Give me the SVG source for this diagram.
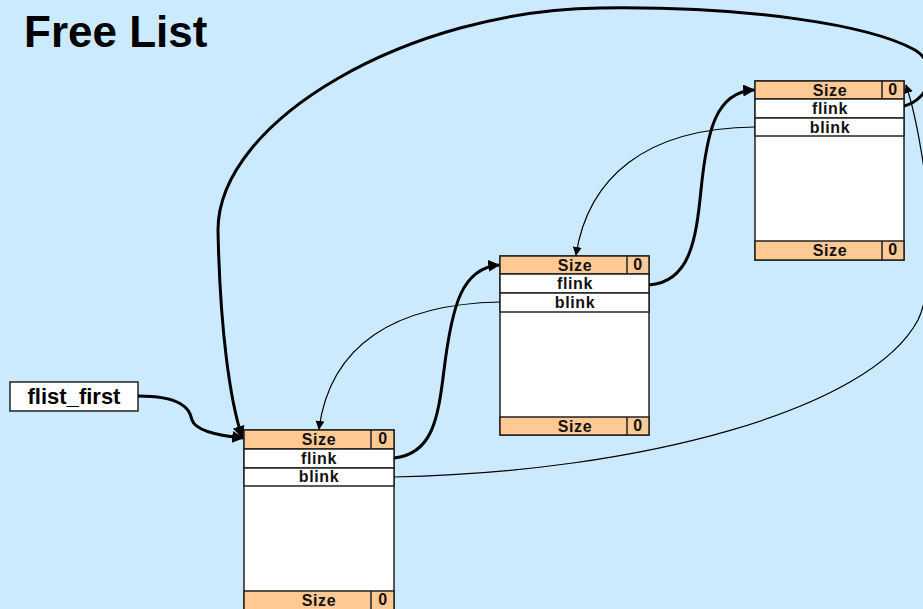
<svg xmlns="http://www.w3.org/2000/svg" width="923" height="609" viewBox="0 0 923 609">
  <defs>
    <marker id="headThick" viewBox="0 0 10 10" refX="9" refY="5" markerWidth="12" markerHeight="12" markerUnits="userSpaceOnUse" orient="auto">
      <path d="M0,0 L10,5 L0,10 Z" fill="#000"/>
    </marker>
    <marker id="headThin" viewBox="0 0 10 10" refX="9" refY="5" markerWidth="9" markerHeight="9" markerUnits="userSpaceOnUse" orient="auto">
      <path d="M0,0 L10,5 L0,10 Z" fill="#000"/>
    </marker>
  </defs>
  <style>
    .title { font-family: "Liberation Sans", Arial, sans-serif; font-weight: bold; font-size: 44px; fill: #000; }
    .lbl { font-family: "Liberation Sans", Arial, sans-serif; font-weight: bold; font-size: 16px; letter-spacing: 0.6px; fill: #111; text-anchor: middle; }
    .hdr { fill: #FFC994; stroke: #222; stroke-width: 1.5; }
    .row { fill: #FFFFFF; stroke: #222; stroke-width: 1.5; }
    .thick { fill: none; stroke: #000; stroke-width: 3; marker-end: url(#headThick); }
    .thin { fill: none; stroke: #000; stroke-width: 1.2; marker-end: url(#headThin); }
    .ptr { fill: #FFFFFF; stroke: #222; stroke-width: 1.5; }
    .ptrtxt { font-family: "Liberation Sans", Arial, sans-serif; font-weight: bold; font-size: 22px; fill: #000; text-anchor: middle; }
  </style>

  <rect width="923" height="609" fill="#CCEAFE"/>

  <text class="title" x="24" y="47">Free List</text>

  <!-- list head pointer -->
  <g id="flist_first">
    <rect class="ptr" x="10" y="382" width="128" height="29"/>
    <text class="ptrtxt" x="74" y="404">flist_first</text>
  </g>

  <!-- free block 1 -->
  <g id="block1">
    <rect class="row" x="244" y="430" width="150" height="179"/>
    <rect class="hdr" x="244" y="430" width="150" height="19"/>
    <line x1="371" y1="430" x2="371" y2="449" stroke="#222" stroke-width="1.5"/>
    <rect class="row" x="244" y="449" width="150" height="19"/>
    <rect class="row" x="244" y="468" width="150" height="18"/>
    <rect class="hdr" x="244" y="591" width="150" height="19"/>
    <line x1="371" y1="591" x2="371" y2="610" stroke="#222" stroke-width="1.5"/>
    <text class="lbl" x="319" y="445">Size</text>
    <text class="lbl" x="383" y="444">0</text>
    <text class="lbl" x="319" y="464">flink</text>
    <text class="lbl" x="319" y="482">blink</text>
    <text class="lbl" x="319" y="606">Size</text>
    <text class="lbl" x="383" y="605">0</text>
  </g>

  <!-- free block 2 -->
  <g id="block2">
    <rect class="row" x="500" y="256" width="149" height="179"/>
    <rect class="hdr" x="500" y="256" width="149" height="18"/>
    <line x1="627" y1="256" x2="627" y2="274" stroke="#222" stroke-width="1.5"/>
    <rect class="row" x="500" y="274" width="149" height="19"/>
    <rect class="row" x="500" y="293" width="149" height="19"/>
    <rect class="hdr" x="500" y="417" width="149" height="18"/>
    <line x1="627" y1="417" x2="627" y2="435" stroke="#222" stroke-width="1.5"/>
    <text class="lbl" x="575" y="271">Size</text>
    <text class="lbl" x="638" y="270">0</text>
    <text class="lbl" x="575" y="289">flink</text>
    <text class="lbl" x="575" y="308">blink</text>
    <text class="lbl" x="575" y="432">Size</text>
    <text class="lbl" x="638" y="431">0</text>
  </g>

  <!-- free block 3 -->
  <g id="block3">
    <rect class="row" x="755" y="81" width="149" height="179"/>
    <rect class="hdr" x="755" y="81" width="149" height="18"/>
    <line x1="882" y1="81" x2="882" y2="99" stroke="#222" stroke-width="1.5"/>
    <rect class="row" x="755" y="99" width="149" height="19"/>
    <rect class="row" x="755" y="118" width="149" height="18"/>
    <rect class="hdr" x="755" y="241" width="149" height="19"/>
    <line x1="882" y1="241" x2="882" y2="260" stroke="#222" stroke-width="1.5"/>
    <text class="lbl" x="830" y="96">Size</text>
    <text class="lbl" x="893" y="95">0</text>
    <text class="lbl" x="830" y="114">flink</text>
    <text class="lbl" x="830" y="133">blink</text>
    <text class="lbl" x="830" y="256">Size</text>
    <text class="lbl" x="893" y="255">0</text>
  </g>

  <!-- forward and backward links -->
  <g id="connectors">
    <path class="thick" d="M138,396 C180,396 190,408 192,420 C196,432 222,436 243,438"/>
    <path class="thick" d="M904,106 C930,100 940,65 915,50 C870,25 750,6 600,8 C410,10 218,120 218,230 C220,330 230,400 242,437"/>
    <path class="thick" d="M394,458 C432,454 438,420 444,370 C452,305 462,268 499,265"/>
    <path class="thick" d="M649,285 C690,282 696,240 701,190 C707,130 716,92 754,90"/>
    <path class="thin" d="M755,127 C645,128 588,178 576,255"/>
    <path class="thin" d="M500,302 C395,304 330,345 319,429"/>
    <path class="thin" d="M394,477 C640,472 870,410 918,320 C935,285 930,200 921,150 C916,120 911,100 906,85"/>
  </g>
</svg>
